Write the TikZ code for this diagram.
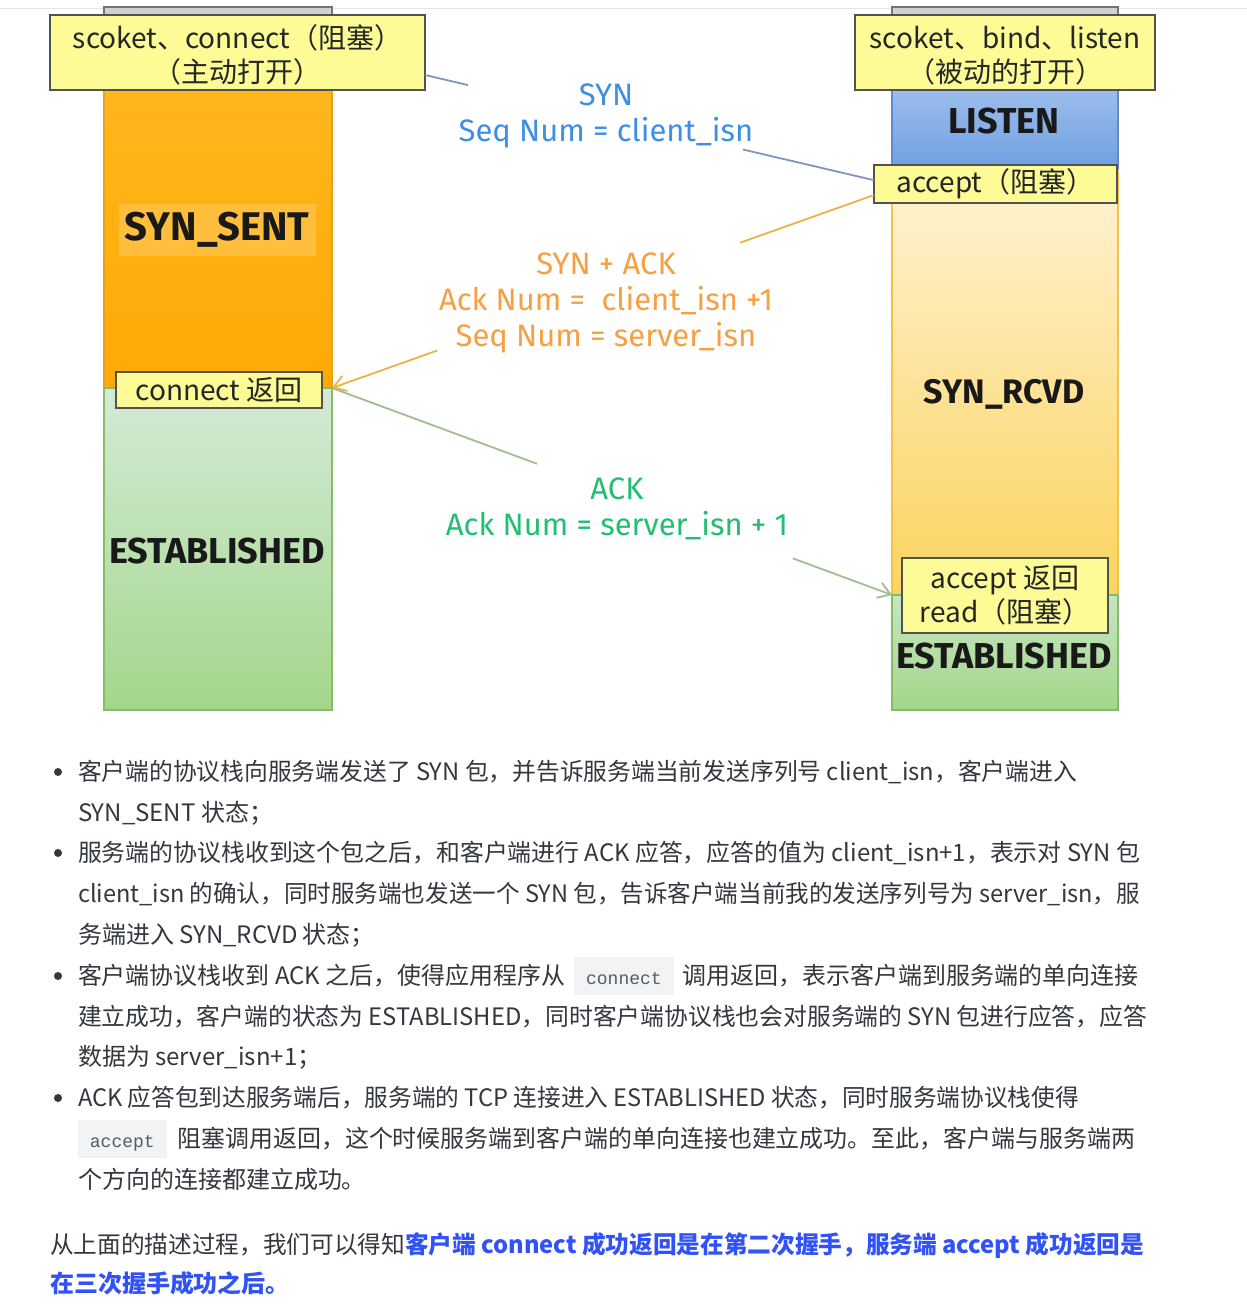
\documentclass[tikz,border=0pt]{standalone}
\usepackage{fontspec}
\usepackage{graphicx}
\usetikzlibrary{arrows.meta,calc}
\setmainfont{Liberation Sans}
\newfontfamily\cjk{Noto Sans CJK SC}
\newfontfamily\statefont{Fira Sans}
\newfontfamily\msgfont{Fira Sans}
\newfontfamily\codefont{Liberation Mono}
\definecolor{txt}{HTML}{33383E}
\definecolor{codebg}{HTML}{F2F3F4}
\definecolor{codetxt}{HTML}{525C66}
\definecolor{hlblue}{HTML}{3052F8}
\definecolor{yboxfill}{HTML}{FCFB96}
\definecolor{synblue}{HTML}{3D8FE6}
\definecolor{saorange}{HTML}{F5A043}
\definecolor{ackgreen}{HTML}{22BF72}
\definecolor{synline}{HTML}{8394C4}
\definecolor{saline}{HTML}{E8B444}
\definecolor{ackline}{HTML}{A0BE8E}
\definecolor{orTop}{HTML}{FFBA22}
\definecolor{orBot}{HTML}{FFA905}
\definecolor{orEdge}{HTML}{E9A01A}
\definecolor{orHl}{HTML}{FFBF3C}
\definecolor{grTopL}{HTML}{D4EAD7}
\definecolor{grTopR}{HTML}{C6E5C1}
\definecolor{grBot}{HTML}{A3D78B}
\definecolor{grEdge}{HTML}{86BD6A}
\definecolor{blTop}{HTML}{C6DAF5}
\definecolor{blBot}{HTML}{6E9FE2}
\definecolor{blEdge}{HTML}{5F8CCB}
\definecolor{yeTop}{HTML}{FFF3D4}
\definecolor{yeBot}{HTML}{FBD35E}
\definecolor{yeEdge}{HTML}{F3C24A}
\newcommand\inlinecode[1]{{\setlength{\fboxsep}{0pt}\colorbox{codebg}{\rule[-11pt]{0pt}{38pt}\hspace{12pt}{\codefont\fontsize{18}{18}\selectfont\color{codetxt}#1}\hspace{12pt}}}}
\newcommand\fitw[2]{\resizebox{#1}{\height}{#2}}
\newcommand\lowertext[1]{\raisebox{-6pt}[\height][\depth]{#1}}
\begin{document}
\begin{tikzpicture}[x=1pt,y=-1pt,
  every node/.style={inner sep=0pt,outer sep=0pt},
  region/.style={rectangle,line width=1.2pt},
  lcol/.style={region,minimum width=228pt},
  rcol/.style={region,minimum width=226pt},
  ybox/.style={rectangle,draw=black!68,line width=1.5pt,fill=yboxfill,align=center,
    font=\cjk\fontsize{28}{34}\selectfont,text=black!85},
  statelab/.style={font=\statefont\bfseries\fontsize{36}{40}\selectfont,text=black!90},
  msglab/.style={align=center,font=\msgfont\fontsize{31}{36}\selectfont},
  bline/.style={anchor=base west,font=\cjk\fontsize{24}{24}\selectfont,text=txt},
  bdot/.style={circle,fill=txt,minimum size=8pt},
  tip/.style={-{Straight Barb[length=12pt,width=16pt]}}
]
\useasboundingbox (0,0) rectangle (1247,1310);
\fill[white] (0,0) rectangle (1247,1310);
\draw[black!10,line width=1pt] (0,8) -- (1247,8);

% headers
\node[lcol,minimum height=12pt,fill=black!18,draw=black!55] (lhead) at (218,13) {};
\node[rcol,minimum height=12pt,fill=black!18,draw=black!55] (rhead) at (1005,13) {};

% left column
\node[lcol,minimum height=373pt,top color=orTop,bottom color=orBot,draw=orEdge] (lorange) at (218,201.5) {};
\node[lcol,minimum height=322pt,top color=grTopL,bottom color=grBot,draw=grEdge] (lgreen) at (218,549) {};

% right column
\node[rcol,minimum height=155pt,top color=blTop,bottom color=blBot,draw=blEdge] (rblue) at (1005,92.5) {};
\node[rcol,minimum height=425pt,top color=yeTop,bottom color=yeBot,draw=yeEdge] (ryellow) at (1005,382.5) {};
\node[rcol,minimum height=115pt,top color=grTopR,bottom color=grBot,draw=grEdge] (rgreen) at (1005,652.5) {};

% state labels
\node[statelab,fill=orHl,minimum width=197pt,minimum height=52pt,font=\statefont\bfseries\fontsize{40}{44}\selectfont] (synsent) at (217,230) {SYN\_SENT};
\node[statelab] (estl) at (217,551) {ESTABLISHED};
\node[statelab] (listen) at (1004,121) {LISTEN};
\node[statelab,font=\statefont\bfseries\fontsize{34}{38}\selectfont] (synrcvd) at (1004,394) {SYN\_RCVD};
\node[statelab] (estr) at (1004,656) {ESTABLISHED};

% yellow boxes
\node[ybox,minimum width=375pt,minimum height=75pt] (clientbox) at (237.5,52.5) {\lowertext{\begin{tabular}{@{}c@{}}scoket、connect（阻塞）\\[0pt]（主动打开）\end{tabular}}};
\node[ybox,minimum width=300pt,minimum height=75pt] (serverbox) at (1005,52.5) {\lowertext{\begin{tabular}{@{}c@{}}scoket、bind、listen\\[0pt]（被动的打开）\end{tabular}}};
\node[ybox,minimum width=243pt,minimum height=38pt] (acceptbox) at (995.5,184) {accept（阻塞）};
\node[ybox,minimum width=206pt,minimum height=36pt] (connectret) at (219,390) {connect 返回};
\node[ybox,minimum width=206pt,minimum height=75pt] (acceptret) at (1005,595.5) {accept 返回\\read（阻塞）};

% message labels
\node[msglab,text=synblue] (synlab) at (606,116) {SYN\\Seq Num = client\_isn};
\node[msglab,text=saorange] (salab) at (606,303) {SYN + ACK\\Ack Num = \ client\_isn +1\\Seq Num = server\_isn};
\node[msglab,text=ackgreen] (acklab) at (617,509) {ACK\\Ack Num = server\_isn + 1};

% connectors
\coordinate (synstart) at ($(clientbox.north east)!0.8!(clientbox.south east)$);
\coordinate (synend) at ($(acceptbox.north west)!0.4!(acceptbox.south west)$);
\path (synstart) -- coordinate[pos=0.096] (syng1) coordinate[pos=0.708] (syng2) (synend);
\draw[synline,line width=1.8pt] (synstart) -- (syng1) (syng2) -- (synend);

\coordinate (sastart) at ($(acceptbox.north west)!0.79!(acceptbox.south west)$);
\path (sastart) -- coordinate[pos=0.247] (sag1) coordinate[pos=0.806] (sag2) (lgreen.north east);
\draw[saline,line width=1.8pt] (sastart) -- (sag1);
\draw[saline,line width=1.8pt,tip] (sag2) -- (lgreen.north east);

\path (lgreen.north east) -- coordinate[pos=0.366] (ackg1) coordinate[pos=0.823] (ackg2) (rgreen.north west);
\draw[ackline,line width=1.8pt] (lgreen.north east) -- (ackg1);
\draw[ackline,line width=1.8pt,tip] (ackg2) -- (rgreen.north west);

% bullets
\node[bdot] (d1) at (58,772) {};
\node[bdot] (d2) at (58,853) {};
\node[bdot] (d3) at (58,976) {};
\node[bdot] (d4) at (58,1098) {};

\node[bline] (l1) at (78,780) {\fitw{999pt}{客户端的协议栈向服务端发送了 SYN 包，并告诉服务端当前发送序列号 client\_isn，客户端进入}};
\node[bline] (l2) at (78,821) {SYN\_SENT 状态；};
\node[bline] (l3) at (78,861) {\fitw{1062pt}{服务端的协议栈收到这个包之后，和客户端进行 ACK 应答，应答的值为 client\_isn+1，表示对 SYN 包}};
\node[bline] (l4) at (78,902) {\fitw{1062pt}{client\_isn 的确认，同时服务端也发送一个 SYN 包，告诉客户端当前我的发送序列号为 server\_isn，服}};
\node[bline] (l5) at (78,943) {务端进入 SYN\_RCVD 状态；};
\node[bline] (l6) at (78,984) {\fitw{1060pt}{客户端协议栈收到 ACK 之后，使得应用程序从\hspace{9pt}\inlinecode{connect}\hspace{9pt}调用返回，表示客户端到服务端的单向连接}};
\node[bline] (l7) at (78,1025) {\fitw{1069pt}{建立成功，客户端的状态为 ESTABLISHED，同时客户端协议栈也会对服务端的 SYN 包进行应答，应答}};
\node[bline] (l8) at (78,1065) {数据为 server\_isn+1；};
\node[bline] (l9) at (78,1106) {\fitw{1001pt}{ACK 应答包到达服务端后，服务端的 TCP 连接进入 ESTABLISHED 状态，同时服务端协议栈使得}};
\node[bline] (l10) at (78,1147) {\fitw{1057pt}{\inlinecode{accept}\hspace{11pt}阻塞调用返回，这个时候服务端到客户端的单向连接也建立成功。至此，客户端与服务端两}};
\node[bline] (l11) at (78,1188) {个方向的连接都建立成功。};

\node[bline] (p1) at (50,1253) {\fitw{1094pt}{从上面的描述过程，我们可以得知{\bfseries\color{hlblue}客户端 connect 成功返回是在第二次握手，服务端 accept 成功返回是}}};
\node[bline] (p2) at (50,1292) {{\bfseries\color{hlblue}在三次握手成功之后。}};
\end{tikzpicture}
\end{document}
